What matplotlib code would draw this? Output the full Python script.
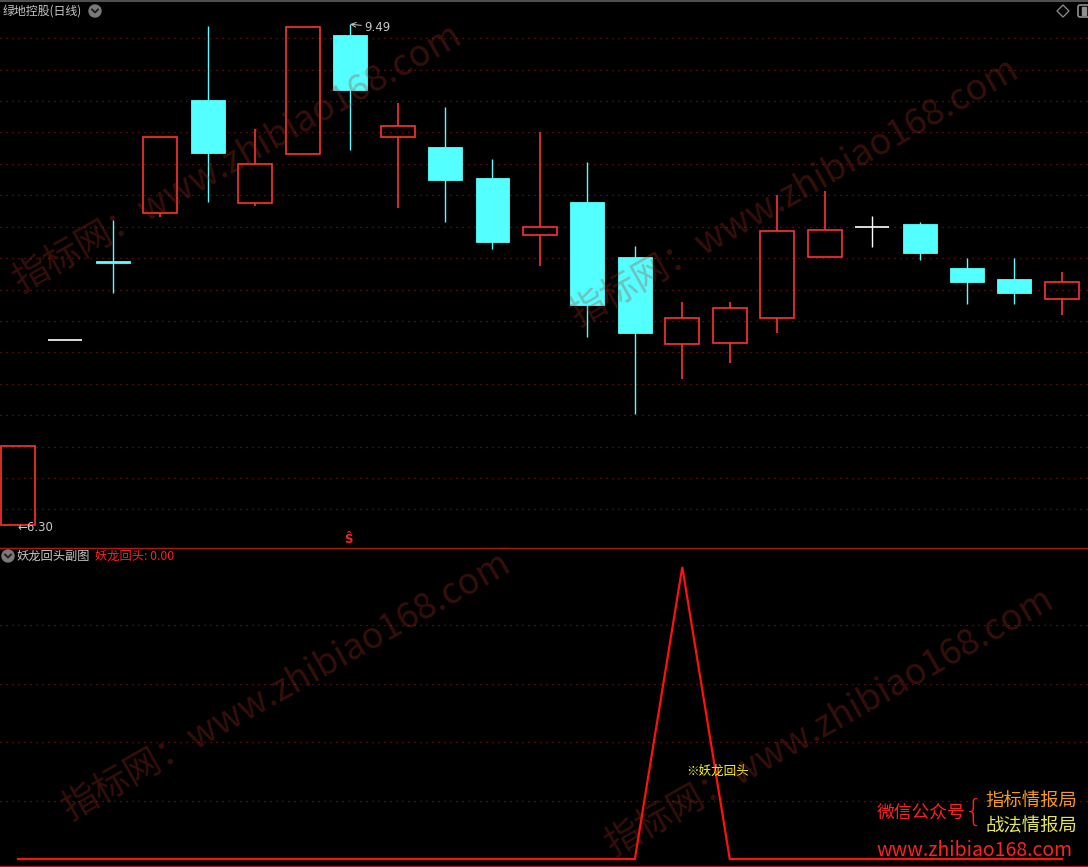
import matplotlib
matplotlib.use('Agg')
import matplotlib.pyplot as plt
from matplotlib.patches import Rectangle, Circle, Polygon, FancyBboxPatch
import matplotlib.transforms as mtransforms
import numpy as np

plt.rcParams['font.family'] = ['Noto Sans CJK SC', 'DejaVu Sans']
plt.rcParams['lines.scale_dashes'] = False
plt.rcParams['axes.unicode_minus'] = False

# ---------------- data ----------------
title = "绿地控股(日线)"
sub_title = "妖龙回头副图"
sig_name = "妖龙回头"
opens  = [6.30, 7.48, 7.98, 8.29, 9.01, 8.35, 8.66, 9.42, 8.77, 8.71, 8.51, 8.15,
          8.36, 8.01, 7.45, 7.46, 7.62, 8.01, 8.20, 8.22, 7.94, 7.87, 7.74]
highs  = [6.80, 7.48, 8.24, 8.77, 9.48, 8.82, 9.47, 9.49, 8.99, 8.96, 8.63, 8.80,
          8.61, 8.08, 7.72, 7.72, 8.40, 8.43, 8.27, 8.23, 8.00, 8.00, 7.91]
lows   = [6.30, 7.48, 7.78, 8.26, 8.36, 8.33, 8.66, 8.69, 8.32, 8.23, 8.06, 7.95,
          7.50, 7.01, 7.23, 7.33, 7.52, 8.01, 8.07, 7.99, 7.71, 7.71, 7.64]
closes = [6.80, 7.48, 7.97, 8.77, 8.67, 8.60, 9.47, 9.07, 8.84, 8.50, 8.10, 8.20,
          7.70, 7.52, 7.62, 7.68, 8.17, 8.18, 8.20, 8.03, 7.85, 7.78, 7.85]
signal = [0, 0, 0, 0, 0, 0, 0, 0, 0, 0, 0, 0, 0, 0, 1, 0, 0, 0, 0, 0, 0, 0, 0]
top_grid = [6.4, 6.6, 6.8, 7.0, 7.2, 7.4, 7.6, 7.8, 8.0, 8.2, 8.4, 8.6, 8.8, 9.0, 9.2, 9.4]
sub_grid = [0.2, 0.4, 0.6, 0.8]
sell_idx = 7

# ---------------- style ----------------
RED = '#ff3232'
CYAN = '#54ffff'
WHITE = '#ffffff'
GRID = '#a01818'
TXT = '#c8c8c8'
FW, FH = 1088, 867
STEP = 47.45
X0 = 18.0

fig = plt.figure(figsize=(FW / 100, FH / 100), dpi=100, facecolor='black')

def frac(y0, y1):
    return [0, (FH - y1) / FH, 1, (y1 - y0) / FH]

xlim = (-X0 / STEP, (FW - X0) / STEP)

# top panel (pixels 0..547)
ax = fig.add_axes(frac(0, 547))
ax.set_facecolor('black')
ppu = 157.0
ax.set_xlim(*xlim)
ax.set_ylim(6.30 - (547 - 525) / ppu, 6.30 + 525 / ppu)
ax.set_yticks(top_grid)
ax.set_xticks([])
ax.yaxis.grid(True, color=GRID, linestyle=(0, (0.72, 3.6)), lw=0.9)
ax.tick_params(left=False, labelleft=False)
for s in ax.spines.values():
    s.set_visible(False)
ax.set_axisbelow(True)

W = 0.358
for i, (o, h, l, c) in enumerate(zip(opens, highs, lows, closes)):
    top, bot = max(o, c), min(o, c)
    if c > o:
        ax.add_patch(Rectangle((i - W, bot), 2 * W, top - bot, fill=False,
                               ec=RED, lw=1.2, zorder=3))
        if h > top:
            ax.vlines(i, top, h, color=RED, lw=1.2, zorder=3)
        if l < bot:
            ax.vlines(i, l, bot, color=RED, lw=1.2, zorder=3)
    elif c < o:
        ax.vlines(i, l, h, color=CYAN, lw=1.0, zorder=2)
        ax.add_patch(Rectangle((i - W, bot), 2 * W, top - bot, fc=CYAN,
                               ec=CYAN, lw=0.6, zorder=3))
    else:
        ax.vlines(i, l, h, color=WHITE, lw=1.0, zorder=3)
        ax.hlines(o, i - W, i + W, color=WHITE, lw=1.2, zorder=3)

# high / low labels
imax = int(np.argmax(highs))
imin = int(np.argmin(lows))
ax.annotate(f'{highs[imax]:.2f}', xy=(imax, highs[imax]), xytext=(14, -3),
            textcoords='offset pixels', ha='left', va='center', color=TXT,
            fontsize=8.5, family='DejaVu Sans',
            arrowprops=dict(arrowstyle='->', color=TXT, lw=0.7,
                            shrinkA=0, shrinkB=0))
ax.text(imin - 0.02, lows[imin] - 0.015, f'←{lows[imin]:.2f}', ha='left', va='center',
        color=TXT, fontsize=8.5, family='DejaVu Sans')

blend = mtransforms.blended_transform_factory(ax.transData, ax.transAxes)
ax.text(sell_idx - 0.04, 0.013, 'Ŝ', transform=blend, ha='center', va='center',
        color='#ff2020', fontsize=8.5, fontweight='bold', family='DejaVu Sans')

# bottom panel (pixels 548..867)
bx = fig.add_axes(frac(548, 867))
bx.set_facecolor('black')
upp = 292.0
bx.set_xlim(*xlim)
bx.set_ylim(-(867 - 859) / upp, (859 - 548) / upp)
bx.set_yticks(sub_grid)
bx.set_xticks([])
bx.yaxis.grid(True, color=GRID, linestyle=(0, (0.72, 3.6)), lw=0.9)
bx.tick_params(left=False, labelleft=False)
for s in bx.spines.values():
    s.set_visible(False)
bx.set_axisbelow(True)
xs = np.arange(len(signal))
bx.plot(xs, signal, color='#ff1010', lw=1.6, zorder=3, solid_joinstyle='miter')
for i, v in enumerate(signal):
    if v > 0:
        bx.annotate('※' + sig_name, xy=(i, 0.30), xytext=(4, 0), textcoords='offset pixels',
                    ha='left', va='center', color='#ffff00', fontsize=9)

# overlay for decorations
ov = fig.add_axes([0, 0, 1, 1])
ov.set_xlim(0, FW)
ov.set_ylim(FH, 0)
ov.axis('off')
ov.patch.set_alpha(0)

ov.plot([0, FW], [1, 1], color='#505050', lw=1.5)
ov.plot([0, FW], [547.5, 547.5], color='#b01818', lw=1.0)
ov.plot([0, FW], [865.5, 865.5], color='#b01818', lw=1.0)

ov.text(3, 11, title, ha='left', va='center', color=TXT, fontsize=8.6)
ov.text(17, 556, sub_title, ha='left', va='center', color=TXT, fontsize=8.8)
ov.text(95, 556, f'{sig_name}: {signal[-1]:.2f}', ha='left', va='center',
        color='#ff2020', fontsize=8.8)

for cx, cy in [(95, 11), (8, 556)]:
    ov.add_patch(Circle((cx, cy), 6, color='#7a7a7a', zorder=5))
    ov.plot([cx - 3, cx, cx + 3], [cy - 1.5, cy + 1.5, cy - 1.5], color='#1a1a1a',
            lw=1.3, zorder=6)

ov.add_patch(Polygon([[1063, 5], [1069, 11], [1063, 17], [1057, 11]], closed=True,
                     fill=False, ec='#909090', lw=0.9))
ov.add_patch(FancyBboxPatch((1078, 5), 14, 12, boxstyle='round,pad=0,rounding_size=2',
                            fill=False, ec='#909090', lw=1.2))
ov.add_patch(Rectangle((1082, 7), 4, 8, color='#909090'))

# watermarks
wm = '指标网：www.zhibiao168.com'
for cx, cy in [(238, 158), (795, 192), (287, 686), (830, 722)]:
    ov.text(cx, cy, wm, rotation=29.5, ha='center', va='center', color='#b03020',
            alpha=0.3, fontsize=26, rotation_mode='anchor', zorder=10)

# signature
ov.text(921, 813, '微信公众号', ha='center', va='center', color='#ff2020', fontsize=12.8)
ov.text(974, 812, '{', ha='center', va='center', color='#ff2020', fontsize=22,
        family='DejaVu Sans', fontweight='light')
ov.text(1031, 801, '指标情报局', ha='center', va='center', color='#f59a1a', fontsize=13.2)
ov.text(1031, 826, '战法情报局', ha='center', va='center', color='#e6e65a', fontsize=13.2)
ov.text(974.5, 851, 'www.zhibiao168.com', ha='center', va='center', color='#ff2020',
        fontsize=14)

fig.savefig('out.png', dpi=100, facecolor='black')
